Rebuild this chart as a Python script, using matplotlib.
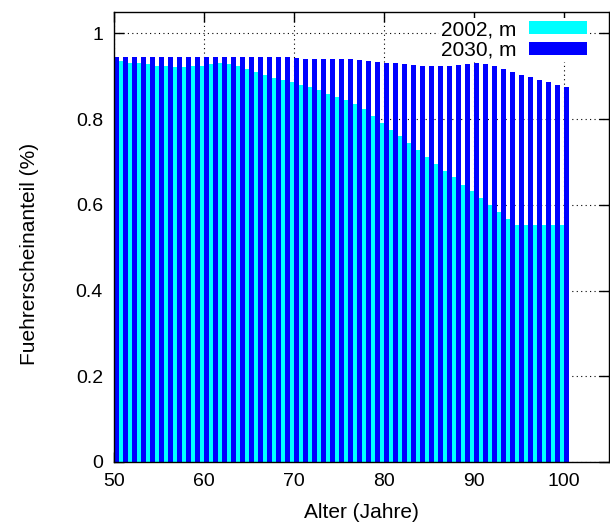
import matplotlib
matplotlib.use("Agg")
import matplotlib.pyplot as plt
import numpy as np

plt.rcParams['font.family'] = ['Liberation Sans', 'DejaVu Sans']

ages = list(range(50, 101))
v2002 = [0.937, 0.935, 0.932, 0.930, 0.928, 0.925, 0.923, 0.921, 0.921, 0.924,
         0.925, 0.928, 0.930, 0.928, 0.923, 0.916, 0.910, 0.904, 0.897, 0.892,
         0.886, 0.880, 0.874, 0.867, 0.859, 0.851, 0.844, 0.835, 0.823, 0.807,
         0.791, 0.775, 0.760, 0.744, 0.727, 0.711, 0.695, 0.680, 0.664, 0.647,
         0.632, 0.615, 0.599, 0.583, 0.568, 0.552, 0.552, 0.552, 0.552, 0.552,
         0.552]
v2030 = [0.946, 0.946, 0.946, 0.946, 0.946, 0.946, 0.946, 0.946, 0.946, 0.946,
         0.946, 0.946, 0.946, 0.946, 0.946, 0.946, 0.946, 0.946, 0.946, 0.944,
         0.942, 0.941, 0.941, 0.941, 0.941, 0.941, 0.940, 0.939, 0.936, 0.934,
         0.932, 0.930, 0.928, 0.926, 0.925, 0.923, 0.923, 0.925, 0.926, 0.928,
         0.930, 0.928, 0.923, 0.916, 0.910, 0.904, 0.898, 0.892, 0.886, 0.880,
         0.874]
labels = ["2002, m", "2030, m"]
xticks = [50, 60, 70, 80, 90, 100]
yticks = [0, 0.2, 0.4, 0.6, 0.8, 1.0]
yticklabels = ["0", "0.2", "0.4", "0.6", "0.8", "1"]

fig = plt.figure(figsize=(6.1, 5.29), dpi=100)
ax = fig.add_axes([114/610, 1-462/529, (609-114)/610, (462-12)/529])

ax.bar(ages, v2002, width=-0.5, align='edge', color='#00ffff', label=labels[0], zorder=2, linewidth=0)
ax.bar(ages, v2030, width=0.5, align='edge', color='#0000ff', label=labels[1], zorder=2, linewidth=0)

ax.set_xlim(50, 105)
ax.set_ylim(0, 1.05)
ax.set_xticks(xticks)
ax.set_yticks(yticks)
ax.set_yticklabels(yticklabels)
ax.tick_params(direction='in', top=True, right=True, labelsize=14, length=7, width=1, pad=8)
ax.grid(True, color='black', linestyle=(0, (1, 3)), linewidth=0.8, zorder=0)
ax.set_axisbelow(True)
for s in ax.spines.values():
    s.set_linewidth(1)
    s.set_zorder(5)

ax.set_xlabel("Alter (Jahre)", fontsize=15)
ax.xaxis.set_label_coords(0.5, -(513-462)/450)
ax.xaxis.label.set_va('center')
ax.set_ylabel("Fuehrerscheinanteil (%)", fontsize=15)
ax.yaxis.set_label_coords((30-114)/495, (462-254)/450)
ax.yaxis.label.set_va('center')

leg = ax.legend(loc='upper right', bbox_to_anchor=((589-114)/495, 1-6.0/450),
                markerfirst=False, fontsize=15, frameon=True,
                fancybox=False, handlelength=2.8, handleheight=0.6, handletextpad=0.6,
                borderpad=0.1, labelspacing=0.08, borderaxespad=0.0)
leg.get_frame().set_facecolor('white')
leg.get_frame().set_edgecolor('none')
leg.get_frame().set_alpha(1)
leg.set_zorder(1)

fig.savefig("out.png", dpi=100)
